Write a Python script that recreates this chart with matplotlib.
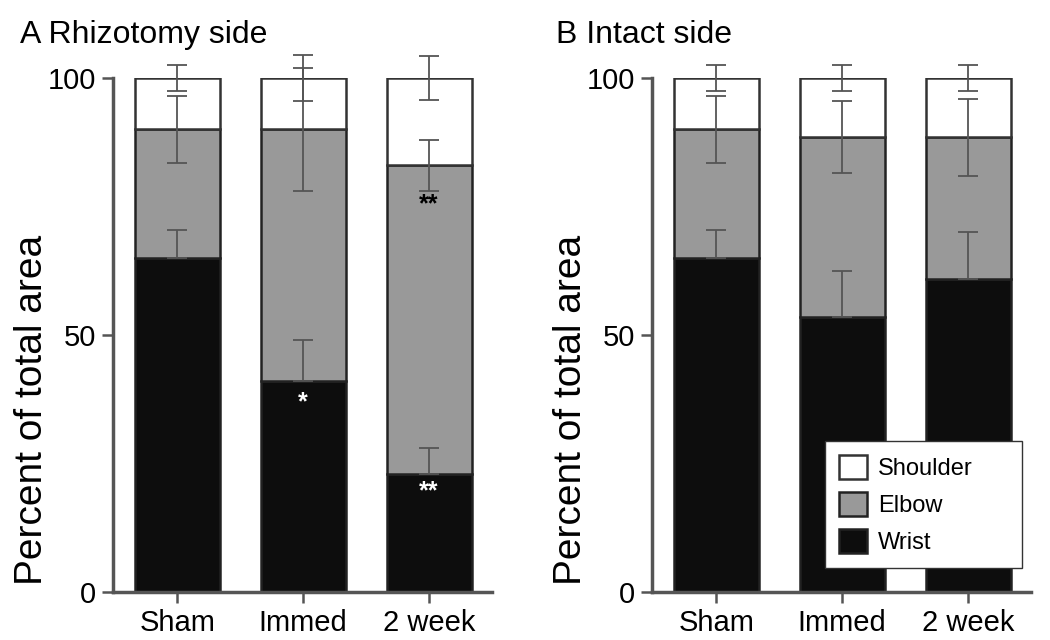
import numpy as np
import matplotlib
matplotlib.use("Agg")
import matplotlib.pyplot as plt

plt.rcParams['font.family'] = ['Liberation Sans', 'DejaVu Sans']

groups = ["Sham", "Immed", "2 week"]

# cumulative tops (percent of total area)
rhiz_wrist = [65, 41, 23]
rhiz_elbow = [90, 90, 83]
rhiz_wrist_err = [5.5, 8, 5]
rhiz_elbow_err = [6.6, 12, 5]
rhiz_shoulder_err = [2.6, 4.5, 4.2]

int_wrist = [65, 53.5, 61]
int_elbow = [90, 88.5, 88.5]
int_wrist_err = [5.5, 9, 9]
int_elbow_err = [6.6, 7, 7.5]
int_shoulder_err = [2.6, 2.5, 2.5]

fig = plt.figure(figsize=(10.5, 6.4), dpi=100)
axA = fig.add_axes([0.1076, 0.075, 0.361, 0.803])
axB = fig.add_axes([0.621, 0.075, 0.361, 0.803])


def panel(ax, wrist, elbow, werr, eerr, serr):
    x = np.arange(len(groups))
    w = 0.675
    shoulder = [100 - e for e in elbow]
    el = [e - wr for e, wr in zip(elbow, wrist)]
    ax.bar(x, wrist, w, color='#0d0d0d', edgecolor='#222222', lw=1.8, label='Wrist', zorder=2)
    ax.bar(x, el, w, bottom=wrist, color='#999999', edgecolor='#222222', lw=1.8, label='Elbow', zorder=2)
    ax.bar(x, shoulder, w, bottom=elbow, color='white', edgecolor='#333333', lw=1.8, label='Shoulder', zorder=2)
    kw = dict(fmt='none', ecolor='#555555', elinewidth=1.3, capsize=7, capthick=1.3, zorder=3)
    for c in [ax.errorbar(x, wrist, yerr=[np.zeros(3), werr], **kw),
              ax.errorbar(x, elbow, yerr=eerr, **kw),
              ax.errorbar(x, [100] * 3, yerr=serr, **kw)]:
        for a in c.get_children():
            a.set_clip_on(False)
    ax.set_xlim(-0.51, 2.5)
    ax.set_ylim(0, 100)
    ax.set_yticks([0, 50, 100])
    ax.set_xticks(x)
    ax.set_xticklabels(groups)
    ax.tick_params(labelsize=21, width=1.8, length=8, color='#555555', pad=4)
    for s in ['top', 'right']:
        ax.spines[s].set_visible(False)
    for s in ['left', 'bottom']:
        ax.spines[s].set_linewidth(2.5)
        ax.spines[s].set_color('#555555')
    ax.set_ylabel('Percent of total area', fontsize=28)
    ax.yaxis.set_label_coords(-0.166, 0.354)


panel(axA, rhiz_wrist, rhiz_elbow, rhiz_wrist_err, rhiz_elbow_err, rhiz_shoulder_err)
panel(axB, int_wrist, int_elbow, int_wrist_err, int_elbow_err, int_shoulder_err)

axA.text(1, 37, '*', color='white', ha='center', va='center', fontsize=18, fontweight='bold')
axA.text(2, 19.5, '**', color='white', ha='center', va='center', fontsize=18, fontweight='bold')
axA.text(2, 75.5, '**', color='black', ha='center', va='center', fontsize=18, fontweight='bold')

fig.text(0.019, 0.933, 'A Rhizotomy side', fontsize=23, va='baseline')
fig.text(0.530, 0.933, 'B Intact side', fontsize=23, va='baseline')

h, l = axB.get_legend_handles_labels()
leg = axB.legend(h[::-1], l[::-1], loc='lower left', bbox_to_anchor=(0.456, 0.047, 0.52, 0.243),
                 mode='expand', fontsize=17,
                 frameon=True, fancybox=False, edgecolor='#333333', framealpha=1,
                 handlelength=1.2, handleheight=1.2, borderpad=0.6, labelspacing=0.5,
                 handletextpad=0.45, borderaxespad=0)
leg.get_frame().set_linewidth(1.0)

fig.savefig('out.png', dpi=100)
